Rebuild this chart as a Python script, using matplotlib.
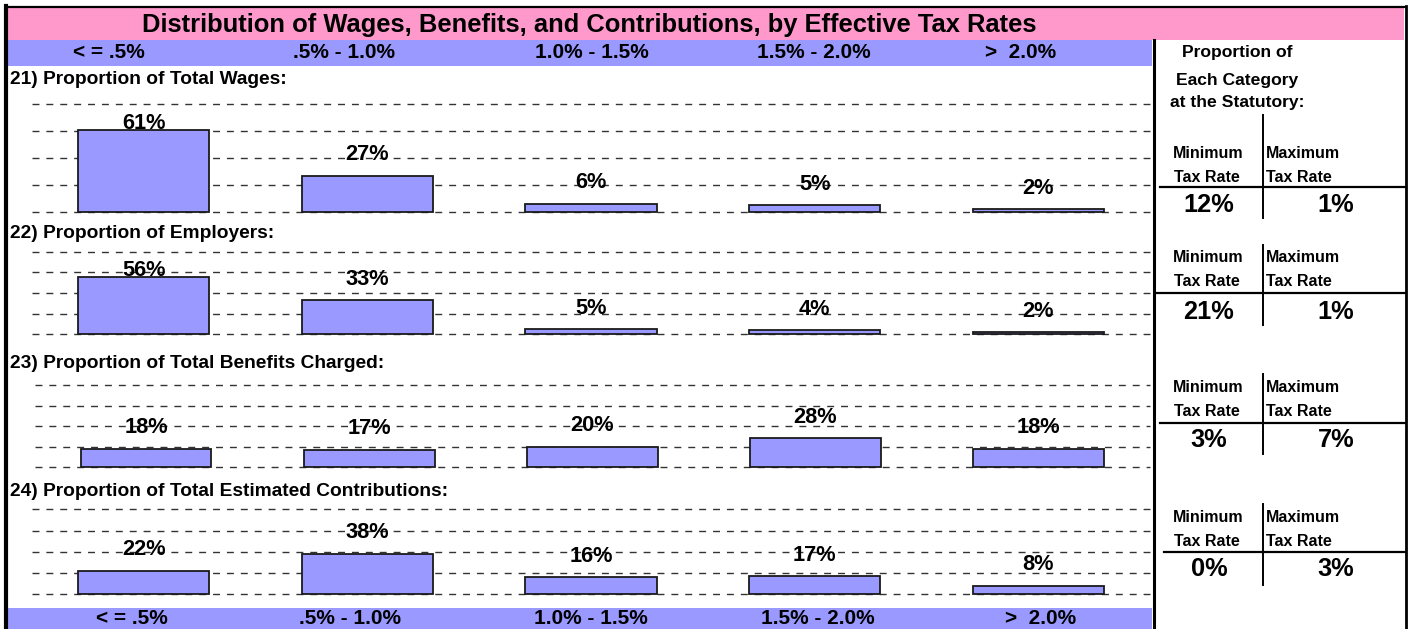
"""Wages, benefits and contributions by effective tax rate band (spreadsheet style panel)."""

import matplotlib

matplotlib.use("Agg")
import matplotlib.pyplot as plt
from matplotlib.patches import Rectangle

plt.rcParams["font.family"] = ["Liberation Sans", "DejaVu Sans"]
plt.rcParams["font.weight"] = "bold"
plt.rcParams["lines.scale_dashes"] = False

# ---- data ----
categories = ["< = .5%", ".5% - 1.0%", "1.0% - 1.5%", "1.5% - 2.0%", ">  2.0%"]
section_titles = [
    "21) Proportion of Total Wages:",
    "22) Proportion of Employers:",
    "23) Proportion of Total Benefits Charged:",
    "24) Proportion of Total Estimated Contributions:",
]
wages = [61, 27, 6, 5, 2]
employers = [56, 33, 5, 4, 2]
benefits = [18, 17, 20, 28, 18]
contributions = [22, 38, 16, 17, 8]
min_rate_share = [12, 21, 3, 0]
max_rate_share = [1, 1, 7, 3]
grid_ticks = [0, 20, 40, 60, 80]

series = [wages, employers, benefits, contributions]

# ---- layout, in pixels of the 1408x629 canvas ----
W, H = 1408, 629
PINK = "#FF99CC"
BLUE = "#9999FF"

# (left, top gridline, baseline, title y) of each chart strip
strips = [
    (32, 104.3, 212.0, 80),
    (32, 251.8, 334.3, 233),
    (34.5, 385.0, 467.3, 363),
    (32, 509.3, 594.3, 492),
]
strip_right = 1150
# right panel: (vline top, vline bottom, "Minimum" y, "Tax Rate" y, hline y, hline x0, value y)
panel = [
    (115, 218, 153, 178, 187, 1160, 205),
    (245, 325, 258, 282, 293, 1157, 312),
    (374, 454, 388, 412, 423, 1160, 440),
    (504, 585, 517, 541, 552, 1164, 569),
]
top_label_x = [109, 344, 592, 814, 1021]
bottom_label_x = [132, 350, 591, 818, 1041]

fig = plt.figure(figsize=(W / 100, H / 100), dpi=100)
bg = fig.add_axes([0, 0, 1, 1])
bg.set_xlim(0, W)
bg.set_ylim(H, 0)
bg.axis("off")

# bands and frame
bg.add_patch(Rectangle((8, 8), 1396, 32, color=PINK, lw=0))
bg.add_patch(Rectangle((8, 40), 1144, 26, color=BLUE, lw=0))
bg.add_patch(Rectangle((8, 608), 1144, 30, color=BLUE, lw=0))
bg.plot([6, 1405], [7, 7], color="black", lw=1.6)
bg.plot([6, 6], [6, H], color="black", lw=3.0)
bg.plot([1405.5, 1405.5], [6, H], color="black", lw=2.0)
bg.plot([1153.5, 1153.5], [40, H], color="black", lw=2.2)

bg.text(589, 25, "Distribution of Wages, Benefits, and Contributions, by Effective Tax Rates",
        ha="center", va="center", fontsize=18.4)
for x, lab in zip(top_label_x, categories):
    bg.text(x, 53, lab, ha="center", va="center", fontsize=15)
for x, lab in zip(bottom_label_x, categories):
    bg.text(x, 619, lab, ha="center", va="center", fontsize=15)

# right panel header
for y, line in zip([53, 80, 103], ["Proportion of", "Each Category", "at the Statutory:"]):
    bg.text(1237, y, line, ha="center", va="center", fontsize=12.6)

for (vt, vb, ym, yt, yh, hx0, yv), lo, hi in zip(panel, min_rate_share, max_rate_share):
    bg.plot([1263, 1263], [vt, vb], color="black", lw=1.4)
    bg.plot([hx0, 1405], [yh, yh], color="black", lw=1.6)
    bg.text(1173, ym, "Minimum", ha="left", va="center", fontsize=11.5)
    bg.text(1174, yt, "Tax Rate", ha="left", va="center", fontsize=11.5)
    bg.text(1266, ym, "Maximum", ha="left", va="center", fontsize=11.5)
    bg.text(1266, yt, "Tax Rate", ha="left", va="center", fontsize=11.5)
    bg.text(1209, yv, f"{lo}%", ha="center", va="center", fontsize=18.3)
    bg.text(1336, yv, f"{hi}%", ha="center", va="center", fontsize=18.3)

# bar strips
for (left, top, base, ty), title, vals in zip(strips, section_titles, series):
    bg.text(10, ty, title, ha="left", va="center", fontsize=13.8)
    ax = fig.add_axes([left / W, 1 - base / H, (strip_right - left) / W, (base - top) / H])
    ax.set_facecolor("none")
    ax.set_xlim(-0.5, len(categories) - 0.5)
    ax.set_ylim(0, 80)
    ax.axis("off")
    for t in grid_ticks:
        ax.axhline(t, color="#333333", lw=1.0, dashes=(5, 5), zorder=0, clip_on=False)
    ax.bar(range(len(vals)), vals, width=0.586, color=BLUE, edgecolor="#1a1a1a", lw=1.3,
           zorder=2, clip_on=False)
    ppu = (base - top) / 80.0  # pixels per percent
    for i, v in enumerate(vals):
        ly = min(v + 21 / ppu, 80 - 19 / ppu)
        ax.text(i, ly, f"{v}%", ha="center", va="center", fontsize=15.7, zorder=3,
                clip_on=False)

fig.savefig("out.png", dpi=100)
